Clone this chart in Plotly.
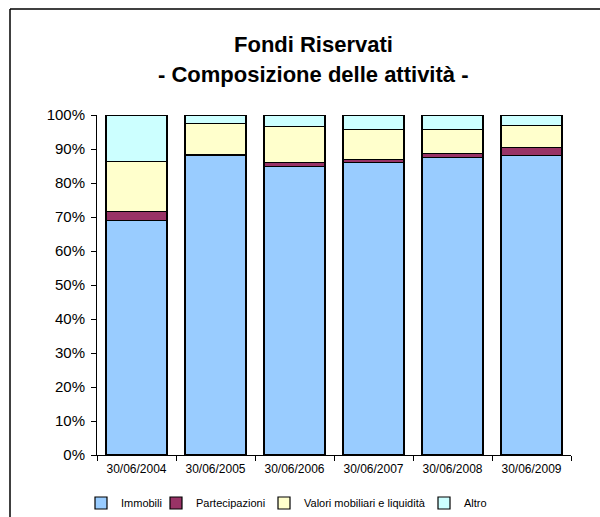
import plotly.graph_objects as go

categories = ["30/06/2004", "30/06/2005", "30/06/2006", "30/06/2007", "30/06/2008", "30/06/2009"]
immobili = [69.0, 88.1, 84.9, 86.0, 87.4, 88.0]
partecipazioni = [2.6, 0.3, 1.1, 1.0, 1.3, 2.5]
valori = [14.8, 9.0, 10.6, 8.8, 7.1, 6.5]
altro = [13.6, 2.6, 3.4, 4.2, 4.2, 3.0]

series = [
    ("Immobili", immobili, "#99CCFF"),
    ("Partecipazioni", partecipazioni, "#993366"),
    ("Valori mobiliari e liquidità", valori, "#FFFFCC"),
    ("Altro", altro, "#CCFFFF"),
]
legend_ids = ["legend", "legend2", "legend3", "legend4"]
legend_x_px = [81, 156, 264, 424]

FONT = "Liberation Sans, Arial, sans-serif"

fig = go.Figure()
for (name, vals, color), lid in zip(series, legend_ids):
    fig.add_trace(go.Bar(
        x=categories,
        y=[v / 100 for v in vals],
        name=name,
        legend=lid,
        marker=dict(color=color, line=dict(color="black", width=1.2)),
    ))

legend_common = dict(
    orientation="h",
    xref="container", yref="container",
    y=(517 - 503) / 517,
    xanchor="left", yanchor="middle",
    font=dict(size=11, family=FONT),
    itemclick=False,
    bgcolor="rgba(0,0,0,0)",
)
legends = {lid: dict(legend_common, x=px / 600) for lid, px in zip(legend_ids, legend_x_px)}

fig.update_layout(
    width=600, height=517,
    barmode="stack",
    bargap=0.23,
    plot_bgcolor="white",
    paper_bgcolor="white",
    font=dict(family=FONT, color="black"),
    margin=dict(l=97, r=29, t=115, b=62, autoexpand=False),
    showlegend=True,
    xaxis=dict(
        type="category",
        showline=True, linecolor="black", linewidth=1,
        ticks="outside", tickson="boundaries", ticklen=5, tickcolor="black",
        tickfont=dict(size=12, family=FONT),
        ticklabelstandoff=3,
        showgrid=False,
    ),
    yaxis=dict(
        range=[0, 1],
        dtick=0.1,
        tickformat=".0%",
        showline=True, linecolor="black", linewidth=1,
        ticks="outside", ticklen=5, tickcolor="black",
        tickfont=dict(size=15, family=FONT),
        ticklabelstandoff=3,
        showgrid=False, zeroline=False,
    ),
    annotations=[
        dict(text="<b>Fondi Riservati</b>", xref="paper", yref="paper",
             x=(313 - 97) / 474, y=(455 - 44) / 340, xanchor="center", yanchor="middle",
             showarrow=False, font=dict(size=22, family=FONT)),
        dict(text="<b>- Composizione delle attività -</b>", xref="paper", yref="paper",
             x=(313 - 97) / 474, y=(455 - 74) / 340, xanchor="center", yanchor="middle",
             showarrow=False, font=dict(size=22, family=FONT)),
    ],
    shapes=[
        dict(type="line", xref="paper", yref="paper",
             x0=(10 - 97) / 474, x1=(10 - 97) / 474, y0=-0.6, y1=(455 - 9) / 340,
             line=dict(color="black", width=1.5), layer="below"),
        dict(type="line", xref="paper", yref="paper",
             x0=(10 - 97) / 474, x1=1.5, y0=(455 - 9) / 340, y1=(455 - 9) / 340,
             line=dict(color="black", width=1.5), layer="below"),
    ],
    **legends,
)

fig.write_html(
    "out.html",
    config={"displayModeBar": False},
    post_script="document.body.style.margin='0';document.body.style.overflow='hidden';",
)
